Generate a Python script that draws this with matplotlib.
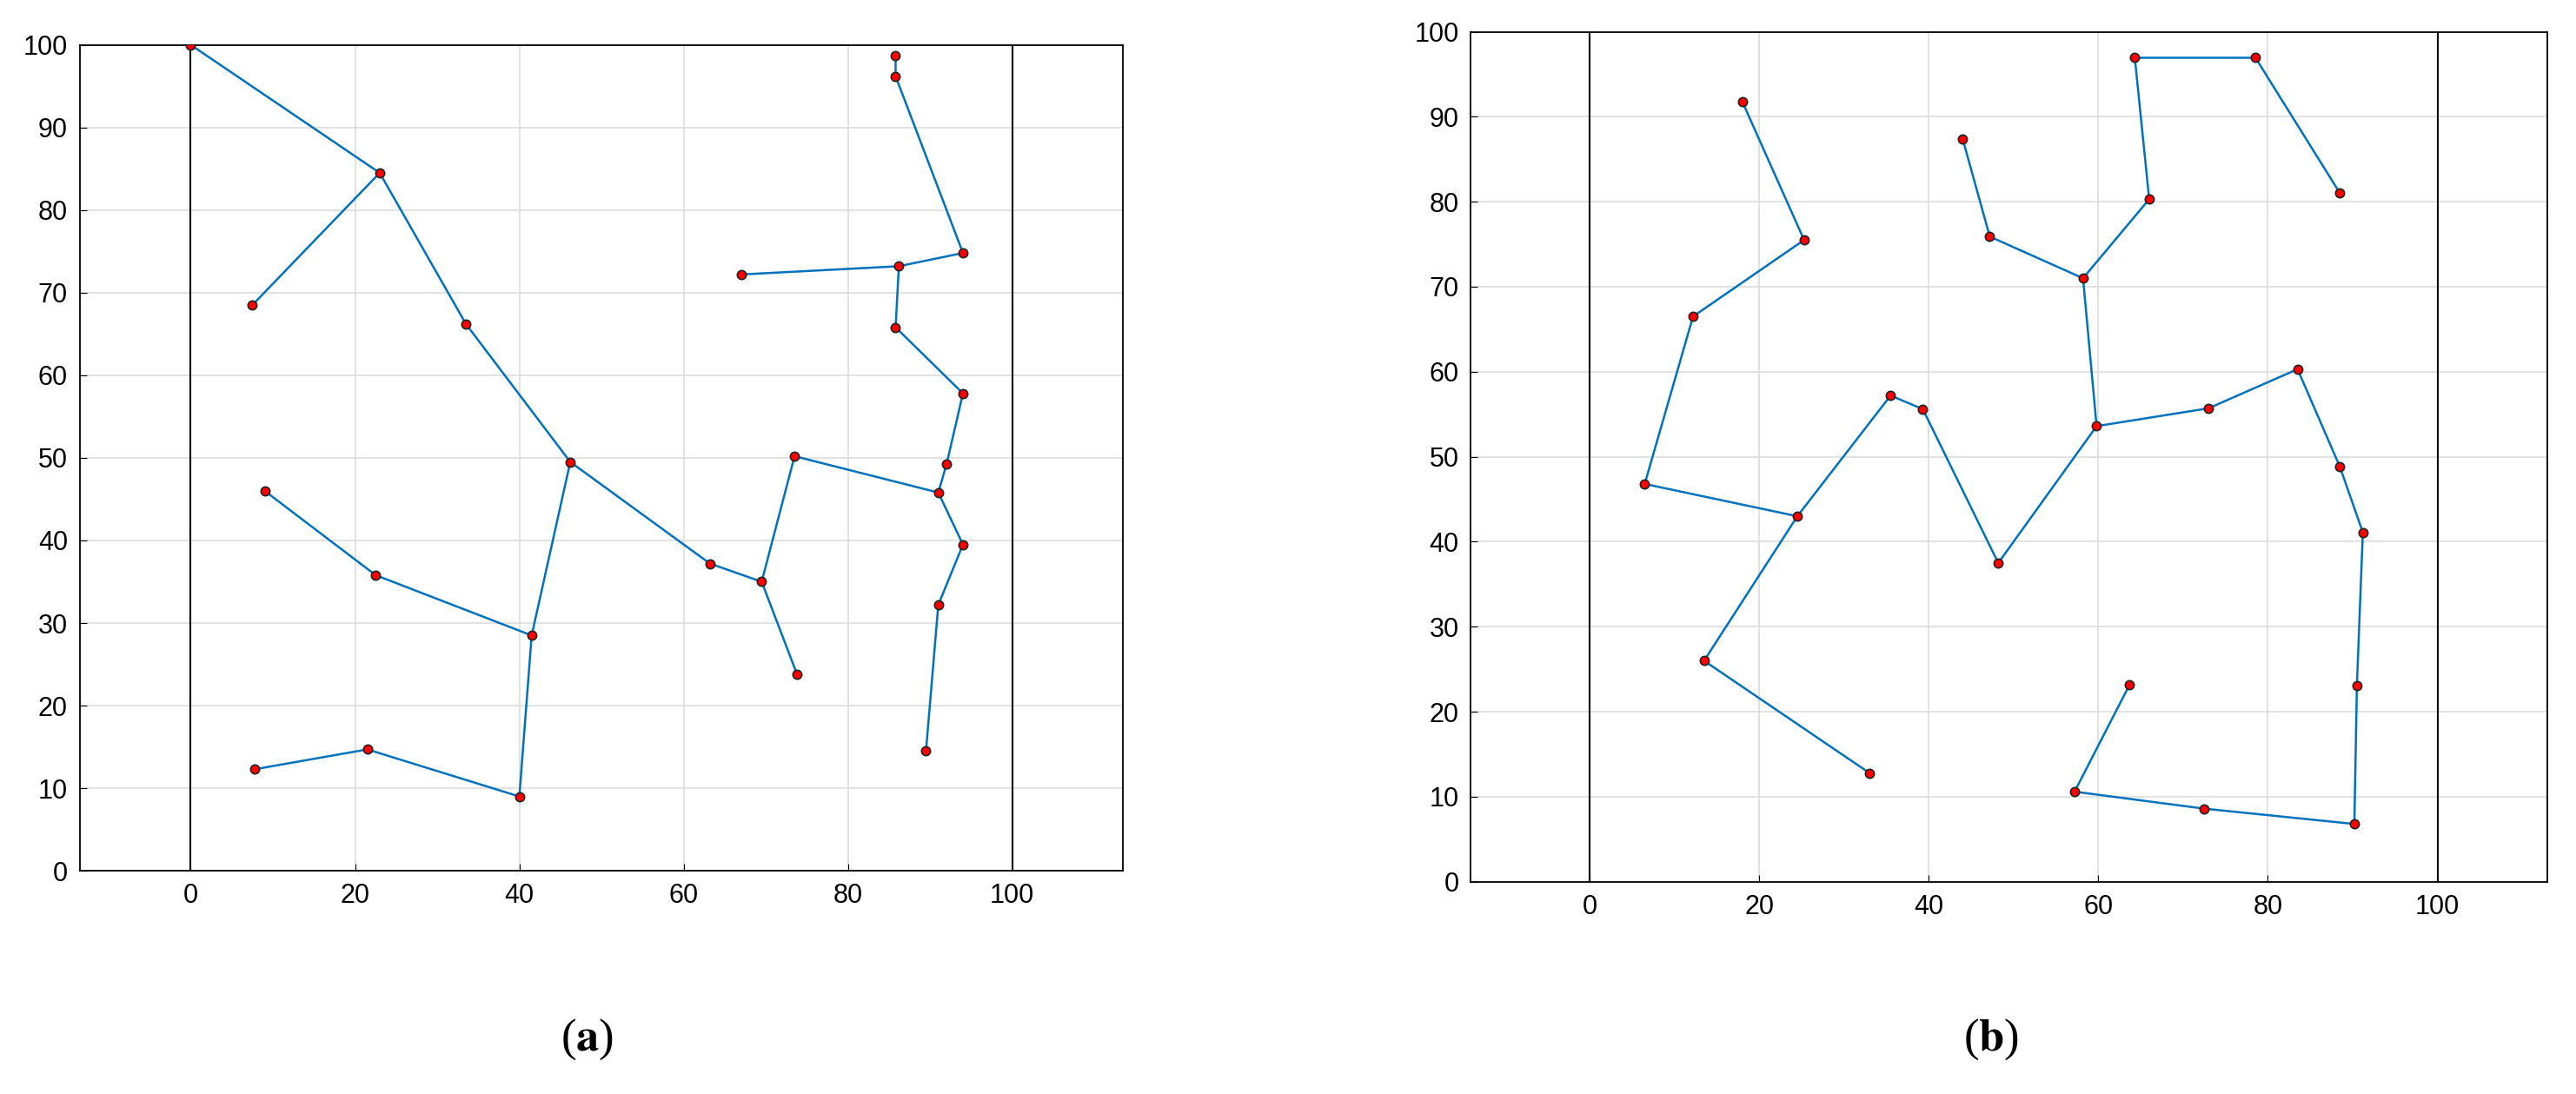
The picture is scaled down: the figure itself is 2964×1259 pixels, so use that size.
import matplotlib
matplotlib.use("Agg")
import matplotlib.pyplot as plt

# Panel (a) edges: (x1, y1, x2, y2)
edges_a = [
    (0, 100, 23, 84.5), (23, 84.5, 7.5, 68.5), (23, 84.5, 33.5, 66.2),
    (33.5, 66.2, 46.2, 49.5), (46.2, 49.5, 63.2, 37.2), (63.2, 37.2, 69.5, 35),
    (69.5, 35, 73.5, 50.2), (69.5, 35, 73.8, 23.8), (46.2, 49.5, 41.5, 28.5),
    (41.5, 28.5, 22.5, 35.8), (22.5, 35.8, 9, 46), (41.5, 28.5, 40, 9),
    (40, 9, 21.5, 14.7), (21.5, 14.7, 7.8, 12.3), (73.5, 50.2, 91, 45.8),
    (91, 45.8, 92, 49.2), (92, 49.2, 94, 57.8), (94, 57.8, 85.8, 65.8),
    (85.8, 65.8, 86.2, 73.2), (86.2, 73.2, 67, 72.2), (86.2, 73.2, 94, 74.8),
    (94, 74.8, 85.8, 96.2), (85.8, 96.2, 85.8, 98.7), (91, 45.8, 94, 39.5),
    (94, 39.5, 91, 32.2), (91, 32.2, 89.5, 14.5),
]
edges_b = [
    (18, 91.8, 25.3, 75.5), (25.3, 75.5, 12.2, 66.5), (12.2, 66.5, 6.5, 46.8),
    (6.5, 46.8, 24.5, 43), (24.5, 43, 35.5, 57.2), (24.5, 43, 13.5, 26),
    (13.5, 26, 33, 12.8), (35.5, 57.2, 39.3, 55.6), (39.3, 55.6, 48.2, 37.5),
    (48.2, 37.5, 59.8, 53.6), (59.8, 53.6, 58.2, 71), (58.2, 71, 47.2, 75.9),
    (47.2, 75.9, 44, 87.4), (58.2, 71, 66, 80.3), (66, 80.3, 64.3, 97),
    (64.3, 97, 78.5, 97), (78.5, 97, 88.5, 81), (59.8, 53.6, 73, 55.7),
    (73, 55.7, 83.5, 60.3), (83.5, 60.3, 88.5, 48.8), (88.5, 48.8, 91.2, 41.1),
    (91.2, 41.1, 90.5, 23.1), (90.5, 23.1, 90.2, 6.8), (90.2, 6.8, 72.5, 8.6),
    (72.5, 8.6, 57.2, 10.6), (57.2, 10.6, 63.7, 23.2),
]
ticks_x = [0, 20, 40, 60, 80, 100]
ticks_y = [0, 10, 20, 30, 40, 50, 60, 70, 80, 90, 100]

plt.rcParams['font.family'] = ['Liberation Sans', 'DejaVu Sans']
fig = plt.figure(figsize=(29.64, 12.59), dpi=100)

def draw(rect, edges, xlim):
    ax = fig.add_axes(rect)
    for x1, y1, x2, y2 in edges:
        ax.plot([x1, x2], [y1, y2], color='#0072BD', lw=1.8, zorder=2)
    pts = set()
    for x1, y1, x2, y2 in edges:
        pts.add((x1, y1)); pts.add((x2, y2))
    xs = [p[0] for p in pts]; ys = [p[1] for p in pts]
    ax.scatter(xs, ys, s=55, c='red', edgecolors='#222222', linewidths=1.2, zorder=3)
    ax.axvline(0, color='black', lw=1.5, zorder=1)
    ax.axvline(100, color='black', lw=1.5, zorder=1)
    ax.set_xlim(*xlim); ax.set_ylim(0, 100)
    ax.set_xticks(ticks_x); ax.set_yticks(ticks_y)
    ax.grid(True, color='#dddddd', lw=1.2)
    ax.set_axisbelow(True)
    ax.tick_params(labelsize=22, direction='in', length=6, pad=10)
    for s in ax.spines.values():
        s.set_linewidth(1.3)
    return ax

draw([0.031, 0.204, 0.405, 0.755], edges_a, (-13.5, 113.5))
draw([0.571, 0.194, 0.418, 0.777], edges_b, (-14, 113))

for x, lab in [(0.228, 'a'), (0.773, 'b')]:
    fig.text(x, 0.05, '(' + r'$\mathbf{' + lab + '}$' + ')', ha='center', va='center',
             fontsize=38, family='Liberation Serif', math_fontfamily='stix')

fig.savefig('out.png', dpi=100)
